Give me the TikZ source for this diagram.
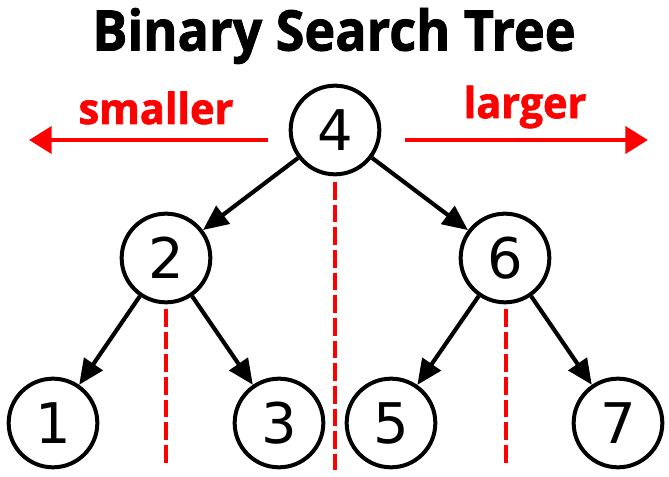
\documentclass[tikz,border=0pt]{standalone}
\usepackage{fontspec}
\setmainfont{DejaVu Sans}
\newfontfamily\titlefont{Open Sans}[BoldFeatures={FakeBold=1.6}]
\usetikzlibrary{arrows.meta}
\begin{document}
\begin{tikzpicture}[x=0.75pt,y=-0.75pt,
  treenode/.style={circle,draw,line width=3pt,minimum size=66.5pt,inner sep=0pt,font=\fontsize{42}{42}\selectfont},
  edge/.style={line width=3.1pt,-{Triangle[length=19pt,width=16.5pt]}},
  guide/.style={red,line width=3pt,dash pattern=on 13.2pt off 3.8pt},
  dir/.style={red,line width=3.6pt,-{Triangle[length=17pt,width=20pt]}},
  lbl/.style={red,inner sep=0pt,xscale=0.97,font=\titlefont\bfseries\fontsize{32}{32}\selectfont},
  title/.style={inner sep=0pt,xscale=0.93,font=\titlefont\bfseries\fontsize{42}{42}\selectfont}]
\useasboundingbox (0,0) rectangle (669,477);
\node[title] (title) at (334,36) {Binary Search Tree};
\node[lbl] (smaller) at (156,108) {smaller};
\node[lbl] (larger) at (525,107) {larger};
\node[treenode] (n4) at (335,130) {4};
\node[treenode] (n2) at (166,258) {2};
\node[treenode] (n6) at (505,258) {6};
\node[treenode] (n1) at (53,423) {1};
\node[treenode] (n3) at (279,423) {3};
\node[treenode] (n5) at (391,423) {5};
\node[treenode] (n7) at (618,423) {7};
\coordinate (la) at (268,140);
\coordinate (lb) at (29,140);
\coordinate (ra) at (405,140);
\coordinate (rb) at (648,140);
\coordinate (g1a) at (335,182);
\coordinate (g1b) at (335,470);
\coordinate (g2a) at (166,309);
\coordinate (g2b) at (166,463);
\coordinate (g3a) at (506,309);
\coordinate (g3b) at (506,463);
\draw[dir] (la) -- (lb);
\draw[dir] (ra) -- (rb);
\draw[guide] (g1a) -- (g1b);
\draw[guide] (g2a) -- (g2b);
\draw[guide] (g3a) -- (g3b);
\draw[edge] (n4) -- (n2);
\draw[edge] (n4) -- (n6);
\draw[edge] (n2) -- (n1);
\draw[edge] (n2) -- (n3);
\draw[edge] (n6) -- (n5);
\draw[edge] (n6) -- (n7);
\end{tikzpicture}
\end{document}
